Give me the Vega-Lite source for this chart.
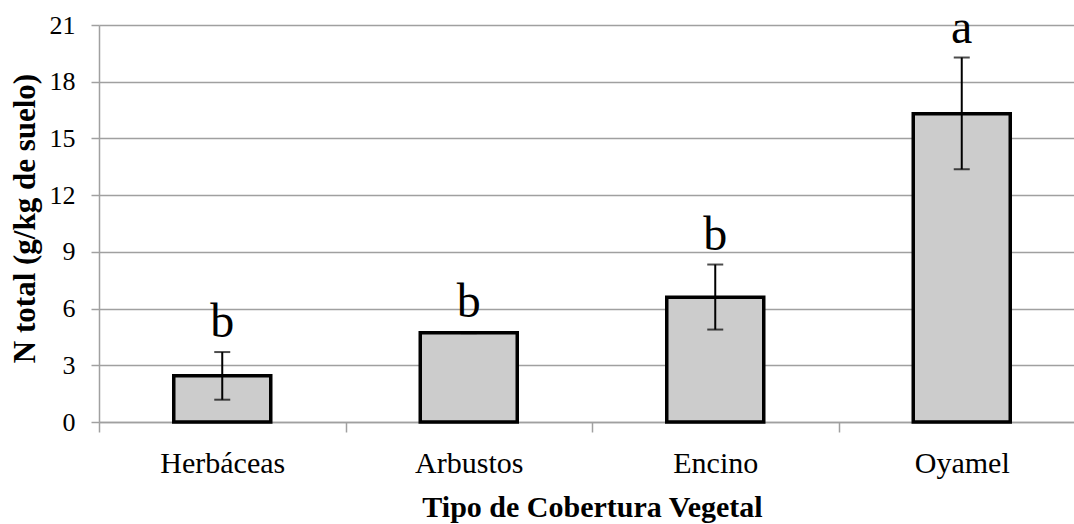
{
  "$schema": "https://vega.github.io/schema/vega-lite/v6.json",
  "width": 975,
  "height": 397,
  "autosize": {"type": "none"},
  "padding": {"left": 99, "top": 25, "right": 0, "bottom": 102},
  "config": {"view": {"stroke": null}, "font": "Liberation Serif"},
  "data": {
    "values": [
      {"tipo": "Herbáceas", "n": 2.44, "lower": 1.18, "upper": 3.70, "letra": "b"},
      {"tipo": "Arbustos", "n": 4.72, "lower": 4.70, "upper": 4.75, "letra": "b"},
      {"tipo": "Encino", "n": 6.6, "lower": 4.89, "upper": 8.33, "letra": "b"},
      {"tipo": "Oyamel", "n": 16.3, "lower": 13.37, "upper": 19.28, "letra": "a"}
    ]
  },
  "encoding": {
    "x": {
      "field": "tipo",
      "type": "nominal",
      "sort": null,
      "scale": {"range": [0, 986], "paddingInner": 0, "paddingOuter": 0},
      "axis": {
        "title": "Tipo de Cobertura Vegetal",
        "titleFont": "Liberation Serif",
        "titleFontSize": 30,
        "titleFontWeight": "bold",
        "titleColor": "#000000",
        "titleX": 493,
        "titleY": 94,
        "titleBaseline": "alphabetic",
        "titleAlign": "center",
        "labelAngle": 0,
        "labelFont": "Liberation Serif",
        "labelFontSize": 30,
        "labelColor": "#000000",
        "labelBaseline": "alphabetic",
        "labelPadding": 40.7,
        "tickBand": "extent",
        "tickSize": 10,
        "tickColor": "#a0a0a0",
        "tickWidth": 1.5,
        "domainColor": "#a0a0a0",
        "domainWidth": 1.5,
        "grid": false
      }
    }
  },
  "layer": [
    {
      "mark": {"type": "bar", "fill": "#cccccc", "stroke": "#000000", "strokeWidth": 3.5, "size": 97},
      "encoding": {
        "y": {
          "field": "n",
          "type": "quantitative",
          "title": "N total (g/kg de suelo)",
          "scale": {"domain": [0, 21], "nice": false},
          "axis": {
            "values": [0, 3, 6, 9, 12, 15, 18, 21],
            "titleFont": "Liberation Serif",
            "titleFontSize": 31,
            "titleFontWeight": "bold",
            "titleColor": "#000000",
            "titleX": -73.5,
            "titleY": 193,
            "titleBaseline": "middle",
            "titleAlign": "center",
            "labelFont": "Liberation Serif",
            "labelFontSize": 26,
            "labelColor": "#000000",
            "labelPadding": 16,
            "tickSize": 8,
            "tickColor": "#a0a0a0",
            "tickWidth": 1.5,
            "domainColor": "#a0a0a0",
            "domainWidth": 1.5,
            "gridColor": "#a0a0a0",
            "gridWidth": 1.5
          }
        }
      }
    },
    {
      "mark": {"type": "rule", "color": "#000000", "strokeWidth": 2},
      "encoding": {
        "y": {"field": "lower", "type": "quantitative", "title": "N total (g/kg de suelo)"},
        "y2": {"field": "upper"}
      }
    },
    {
      "mark": {"type": "tick", "color": "#000000", "thickness": 2, "size": 16},
      "encoding": {"y": {"field": "upper", "type": "quantitative", "title": "N total (g/kg de suelo)"}}
    },
    {
      "mark": {"type": "tick", "color": "#000000", "thickness": 2, "size": 16},
      "encoding": {"y": {"field": "lower", "type": "quantitative", "title": "N total (g/kg de suelo)"}}
    },
    {
      "mark": {"type": "text", "font": "Liberation Serif", "fontSize": 48, "baseline": "alphabetic", "dy": -15, "color": "#000000"},
      "encoding": {
        "y": {"field": "upper", "type": "quantitative", "title": "N total (g/kg de suelo)"},
        "text": {"field": "letra"}
      }
    }
  ]
}
